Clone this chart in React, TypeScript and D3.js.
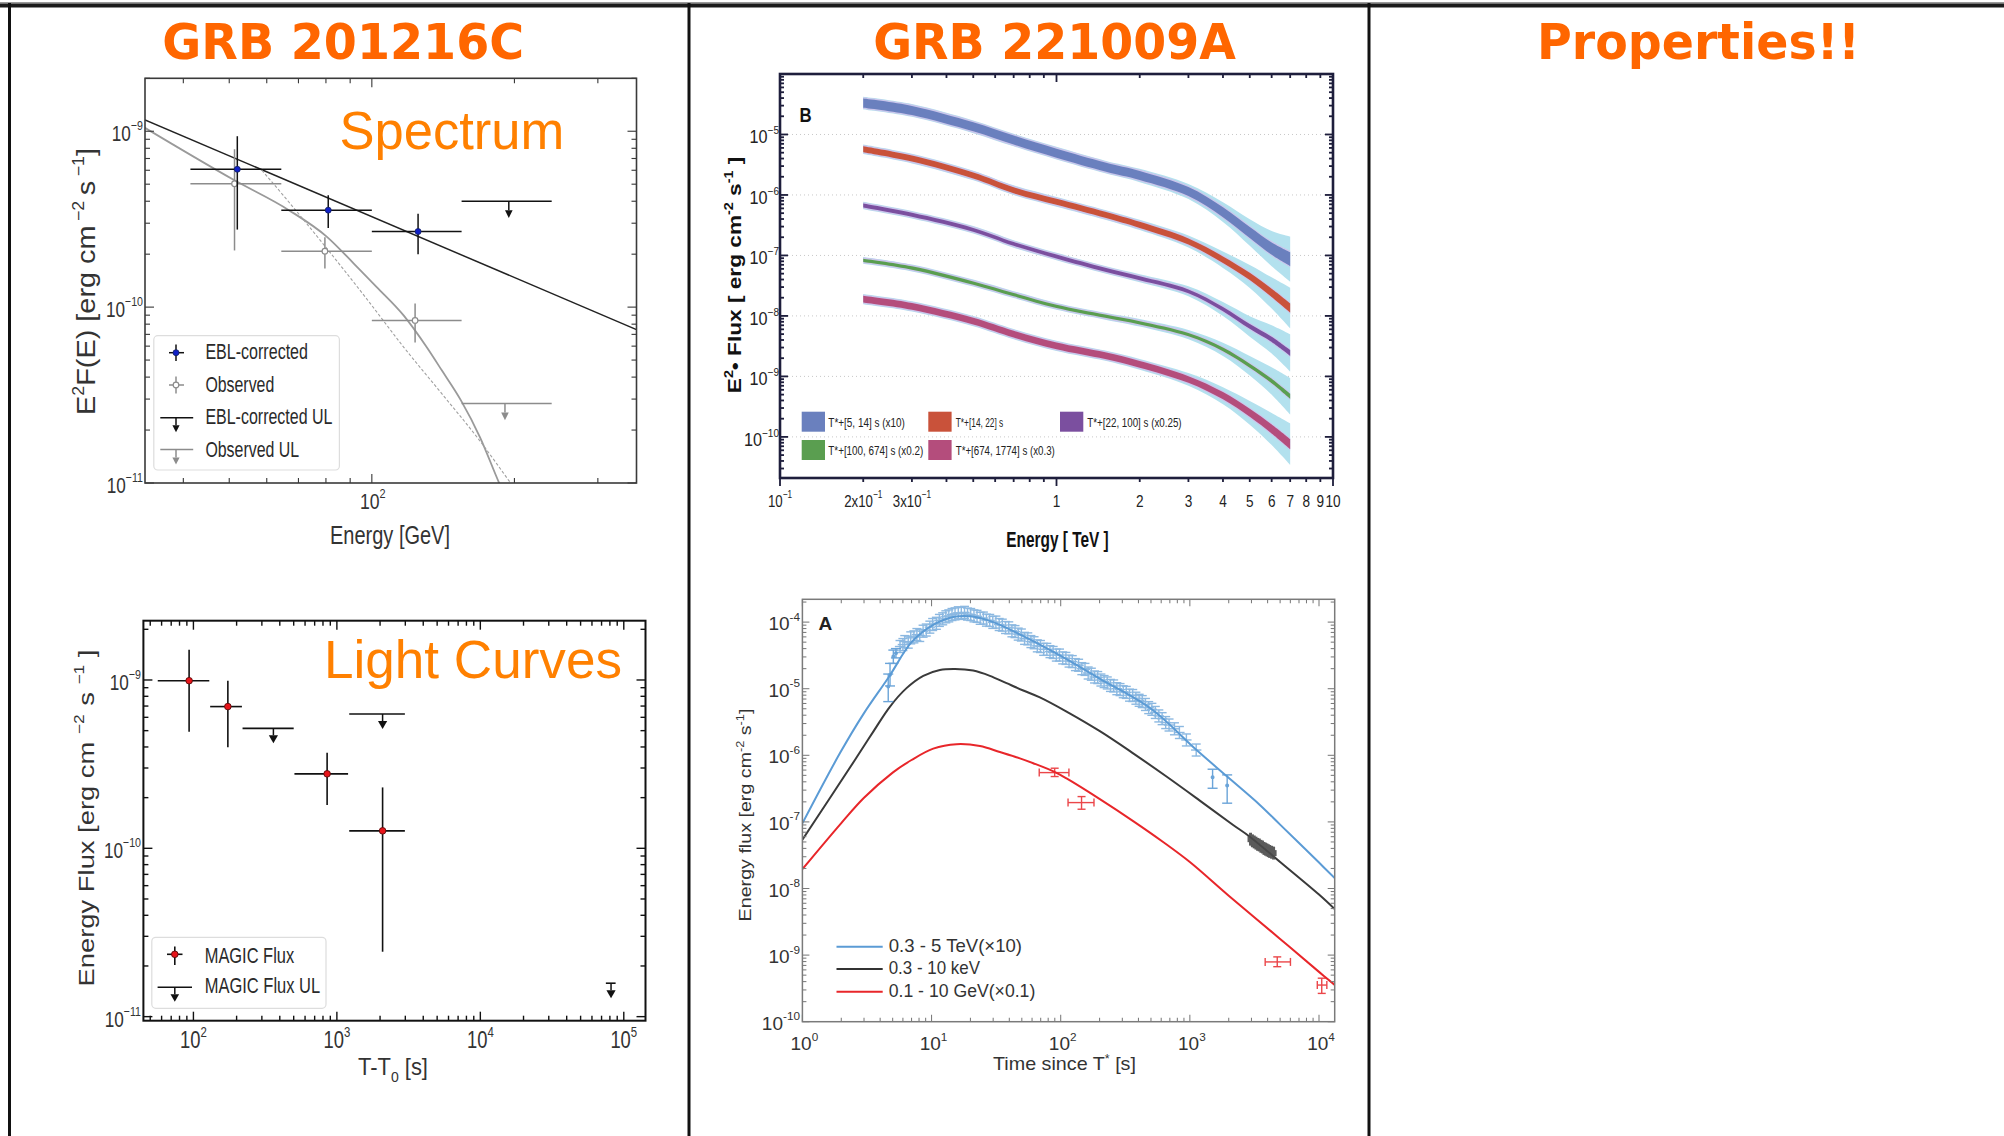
import React, { useLayoutEffect, useRef, useState } from 'react'
import * as d3 from 'd3'

const W = 2004
const H = 1136
const SANS = "'Liberation Sans', Arial, Helvetica, sans-serif"
const TITLE_FONT = "'DejaVu Sans', Verdana, sans-serif"

// ---------- GRB 201216C : spectrum ----------
const specEbl = [
  { e: 52.0, eLo: 41.4, eHi: 64.4, f: 6.08e-10, fLo: 2.76e-10, fHi: 9.37e-10 },
  { e: 80.9, eLo: 64.4, eHi: 100, f: 3.56e-10, fLo: 2.82e-10, fHi: 4.33e-10 },
  { e: 125.2, eLo: 100, eHi: 154.7, f: 2.69e-10, fLo: 2.0e-10, fHi: 3.4e-10 },
]
const specObs = [
  { e: 51.3, eLo: 41.4, eHi: 64.4, f: 5.03e-10, fLo: 2.1e-10, fHi: 7.9e-10 },
  { e: 79.6, eLo: 64.4, eHi: 100, f: 2.08e-10, fLo: 1.66e-10, fHi: 2.5e-10 },
  { e: 123.4, eLo: 100, eHi: 154.7, f: 8.4e-11, fLo: 6.3e-11, fHi: 1.05e-10 },
]
const specEblUL = [{ e: 194.6, eLo: 154.7, eHi: 239.7, f: 4.0e-10 }]
const specObsUL = [{ e: 191, eLo: 154.7, eHi: 239.7, f: 2.83e-11 }]
const specEblModel: [number, number][] = [[33.2, 1.16e-9], [362, 7.45e-11]]
const specObsModel: [number, number][] = [
  [33.1, 1.05e-9], [51.3, 5.26e-10], [66.8, 3.56e-10], [80.4, 2.51e-10], [91.6, 1.77e-10],
  [102.4, 1.3e-10], [116.7, 8.97e-11], [130.5, 5.93e-11], [140.5, 4.37e-11], [154.2, 2.95e-11],
  [169.2, 1.82e-11], [185.7, 1.0e-11], [192, 8.2e-12],
]
const specObsModelDash: [number, number][] = [
  [58.6, 6.0e-10], [66.8, 3.96e-10], [80.4, 2.15e-10], [96.9, 1.14e-10], [116.7, 5.93e-11],
  [140.5, 3.22e-11], [167.6, 1.79e-11], [196.3, 1.0e-11], [205, 8.5e-12],
]

// ---------- GRB 201216C : light curve ----------
const lcFlux = [
  { t: 93.3, tLo: 56.4, tHi: 129, f: 9.9e-10, fLo: 4.93e-10, fHi: 1.51e-9 },
  { t: 173.8, tLo: 130.8, tHi: 217.8, f: 6.95e-10, fLo: 3.98e-10, fHi: 9.9e-10 },
  { t: 855, tLo: 506, tHi: 1197, f: 2.77e-10, fLo: 1.81e-10, fHi: 3.7e-10 },
  { t: 2083, tLo: 1219, tHi: 2979, f: 1.27e-10, fLo: 2.43e-11, fHi: 2.3e-10 },
]
const lcUL = [
  { t: 361, tLo: 220, tHi: 500, f: 5.16e-10 },
  { t: 2083, tLo: 1219, tHi: 2979, f: 6.28e-10 },
  { t: 8.15e4, tLo: 7.5e4, tHi: 8.77e4, f: 1.58e-11 },
]

// ---------- GRB 221009A : B spectra ----------
const bEnergy = [0.2, 0.3, 0.5, 0.7, 1, 1.5, 2, 3, 4, 5, 6, 7]
const bFlux5_14 = [3.3e-5, 2.5e-5, 1.34e-5, 8.1e-6, 4.9e-6, 2.9e-6, 2.1e-6, 1.14e-6, 5.2e-7, 2.4e-7, 1.3e-7, 8.7e-8]
const bFlux14_22 = [5.7e-6, 4.0e-6, 2.1e-6, 1.2e-6, 7.7e-7, 4.7e-7, 3.2e-7, 1.7e-7, 8.5e-8, 4.5e-8, 2.4e-8, 1.35e-8]
const bFlux22_100 = [6.7e-7, 4.7e-7, 2.65e-7, 1.55e-7, 9.6e-8, 5.8e-8, 4.2e-8, 2.55e-8, 1.3e-8, 6.7e-9, 4.1e-9, 2.45e-9]
const bFlux100_674 = [8.3e-8, 6.2e-8, 3.5e-8, 2.25e-8, 1.44e-8, 9.9e-9, 7.7e-9, 4.9e-9, 2.8e-9, 1.5e-9, 8.4e-10, 4.7e-10]
const bFlux674_1774 = [1.9e-8, 1.44e-8, 8.2e-9, 5.0e-9, 3.2e-9, 2.2e-9, 1.58e-9, 8.9e-10, 4.8e-10, 2.5e-10, 1.35e-10, 7.6e-11]
// log10 half widths of the statistical (inner) and systematic (outer) bands
const bInnerHW = [0.075, 0.05, 0.032, 0.027, 0.055]
const bInnerGrow = [1, 1, 1, 1, 1, 1, 1, 1, 1.1, 1.2, 1.35, 1.5]
const bOuterHW = [0.03, 0.03, 0.03, 0.03, 0.03, 0.03, 0.035, 0.05, 0.08, 0.13, 0.19, 0.26]
const bNames = ['T*+[5, 14] s (x10)', 'T*+[14, 22] s', 'T*+[22, 100] s (x0.25)', 'T*+[100, 674] s (x0.2)', 'T*+[674, 1774] s (x0.3)']
const bXTicks = [0.1, 0.2, 0.3, 1, 2, 3, 4, 5, 6, 7, 8, 9, 10]

// ---------- GRB 221009A : A light curves ----------
const aBlueModel: [number, number][] = [
  [1, 9.5e-8], [1.95, 1.07e-6], [3, 4.3e-6], [4.67, 1.5e-5], [7, 5.0e-5], [10, 8.8e-5], [15, 1.2e-4],
  [20, 1.22e-4], [30, 1.0e-4], [50, 6.3e-5], [100, 3.1e-5], [200, 1.42e-5], [500, 5.0e-6],
  [1127, 1.2e-6], [1945, 4.8e-7], [3483, 1.8e-7], [5000, 9.1e-8], [10000, 2.45e-8], [13230, 1.43e-8],
]
const aBlackModel: [number, number][] = [
  [1, 5.4e-8], [2.55, 8.5e-7], [3.54, 2.27e-6], [4.77, 5.4e-6], [6.4, 1.02e-5], [8.63, 1.56e-5],
  [11.6, 1.91e-5], [15.2, 1.98e-5], [21, 1.87e-5], [28.3, 1.56e-5], [38.1, 1.21e-5], [51.3, 9.4e-6],
  [69, 7.4e-6], [111, 4.53e-6], [201, 2.3e-6], [364, 1.07e-6], [659, 4.8e-7], [1194, 2.09e-7],
  [2163, 9.0e-8], [2911, 6.0e-8], [5000, 2.5e-8], [10000, 8.1e-9], [13230, 4.9e-9],
]
const aRedModel: [number, number][] = [
  [1, 1.95e-8], [2, 9.6e-8], [3, 2.3e-7], [5, 5.5e-7], [7, 8.5e-7], [10.3, 1.26e-6], [15.6, 1.47e-6],
  [23.7, 1.38e-6], [33.8, 1.12e-6], [48.3, 9.0e-7], [61.3, 7.6e-7], [90.3, 5.6e-7], [111, 4.5e-7],
  [201, 2.2e-7], [364, 1.03e-7], [621, 5.0e-8], [1000, 2.5e-8], [2000, 7.8e-9], [5000, 1.75e-9],
  [10000, 5.6e-10], [13230, 3.57e-10],
]
const aBlueData: [number, number][] = [
  [5.7, 4.3e-5], [6.0, 4.6e-5], [6.2, 5.1e-5], [6.6, 5.0e-5], [6.9, 5.8e-5], [7.3, 6.0e-5], [7.7, 6.5e-5],
  [8.1, 6.3e-5], [8.6, 7.3e-5], [9.1, 7.6e-5], [9.7, 8.4e-5], [10.2, 9.2e-5], [10.9, 9.6e-5], [11.5, 1.06e-4],
  [12.2, 1.12e-4], [12.9, 1.2e-4], [13.6, 1.24e-4], [14.4, 1.3e-4], [15.2, 1.33e-4], [16.1, 1.38e-4],
  [17.0, 1.35e-4], [18.0, 1.4e-4], [19.0, 1.32e-4], [20.1, 1.3e-4], [21.3, 1.24e-4], [22.5, 1.22e-4],
  [23.8, 1.14e-4], [25.2, 1.15e-4], [26.6, 1.07e-4], [28.2, 1.06e-4], [29.8, 9.9e-5], [31.5, 1.0e-4],
  [33.4, 9.2e-5], [35.3, 9.0e-5], [37.4, 8.3e-5], [39.6, 8.2e-5], [41.9, 7.4e-5], [44.3, 7.2e-5],
  [46.9, 6.6e-5], [49.6, 6.4e-5], [52.5, 5.7e-5], [55.6, 5.6e-5], [58.8, 5.1e-5], [62.2, 4.9e-5],
  [65.9, 4.4e-5], [69.7, 4.3e-5], [73.8, 3.9e-5], [78.1, 3.9e-5], [82.6, 3.6e-5], [87.4, 3.5e-5],
  [92.5, 3.2e-5], [97.9, 3.2e-5], [103.6, 2.9e-5], [109.7, 2.85e-5], [116.1, 2.6e-5], [122.9, 2.55e-5],
  [130, 2.3e-5], [137.6, 2.25e-5], [145.7, 2.0e-5], [154.2, 1.95e-5], [163.2, 1.72e-5], [172.7, 1.65e-5],
  [182.8, 1.5e-5], [193.5, 1.47e-5], [204.8, 1.35e-5], [216.8, 1.28e-5], [229.4, 1.22e-5], [242.8, 1.12e-5],
  [257, 1.1e-5], [272, 1.0e-5], [288, 9.7e-6], [305, 9.0e-6], [322, 8.8e-6], [341, 8.0e-6], [361, 7.9e-6],
  [382, 7.2e-6], [405, 6.7e-6], [428, 6.4e-6], [453, 5.8e-6], [480, 5.2e-6], [508, 4.9e-6], [540, 4.4e-6],
  [575, 3.9e-6], [610, 3.55e-6], [650, 3.1e-6], [690, 2.85e-6], [760, 2.5e-6], [830, 2.2e-6],
  [940, 1.7e-6], [1120, 1.2e-6],
]
const aBlueBig = [
  { t: 4.62, f: 1.08e-5, fLo: 6.4e-6, fHi: 1.66e-5 },
  { t: 4.77, f: 1.62e-5, fLo: 1.1e-5, fHi: 2.4e-5 },
  { t: 5.06, f: 3.05e-5, fLo: 2.4e-5, fHi: 3.8e-5 },
  { t: 5.3, f: 3.4e-5, fLo: 2.9e-5, fHi: 4.0e-5 },
  { t: 1500, f: 4.69e-7, fLo: 3.2e-7, fHi: 6.18e-7 },
  { t: 1945, f: 3.51e-7, fLo: 1.91e-7, fHi: 5.08e-7 },
]
const aBlackData: [number, number][] = [
  [2950, 5.5e-8], [3050, 5.2e-8], [3150, 5.0e-8], [3250, 4.8e-8], [3350, 4.6e-8], [3450, 4.5e-8],
  [3550, 4.3e-8], [3650, 4.2e-8], [3750, 4.0e-8], [3850, 3.9e-8], [3950, 3.8e-8], [4050, 3.7e-8],
  [4150, 3.6e-8], [4300, 3.5e-8], [4450, 3.4e-8],
]
const aRedData = [
  { t: 89.8, tLo: 68.2, tHi: 115.8, f: 5.5e-7, fLo: 4.8e-7, fHi: 6.4e-7 },
  { t: 145, tLo: 114, tHi: 181, f: 1.95e-7, fLo: 1.55e-7, fHi: 2.4e-7 },
  { t: 4750, tLo: 3830, tHi: 6010, f: 7.9e-10, fLo: 6.7e-10, fHi: 9.4e-10 },
  { t: 10500, tLo: 9700, tHi: 11500, f: 3.55e-10, fLo: 2.66e-10, fHi: 4.5e-10 },
]
const aLegend = ['0.3 - 5  TeV(\u00d710)', '0.3 - 10 keV', '0.1 - 10 GeV(\u00d70.1)']

// ---------- scales ----------
const specX = d3.scaleLog().domain([33.2, 362]).range([145, 636.5])
const specY = d3.scaleLog().domain([1e-11, 2.0e-9]).range([483, 78.3])
const lcX = d3.scaleLog().domain([44.8, 1.417e5]).range([143.4, 645.5])
const lcY = d3.scaleLog().domain([9.46e-12, 2.25e-9]).range([1020.7, 620.7])
const bX = d3.scaleLog().domain([0.1, 10]).range([780, 1333])
const bY = d3.scaleLog().domain([2.09e-11, 1e-4]).range([478, 74])
const aX = d3.scaleLog().domain([1, 13230]).range([802.4, 1334.7])
const aY = d3.scaleLog().domain([1e-10, 2.2e-4]).range([1021.7, 599.3])

function logTicks(scale: any) {
  return scale.ticks().map((v: number) => {
    const l = Math.log10(v)
    return { v, major: Math.abs(l - Math.round(l)) < 1e-9, exp: Math.round(l) }
  })
}

// text squeezed to a measured width (the source figures were stretched)
function FitText({ x, y, w, sx = 1, size, anchor = 'middle', rotate = 0, weight = 400, fill = '#222', family = SANS, children }: any) {
  const ref = useRef<SVGTextElement>(null)
  const [s, setS] = useState(sx)
  useLayoutEffect(() => {
    if (!ref.current || !w) return
    const bw = ref.current.getBBox().width
    if (bw > 0) setS(w / bw)
  }, [w, size])
  return (
    <g transform={`translate(${x},${y}) rotate(${rotate}) scale(${s},1)`}>
      <text ref={ref} textAnchor={anchor} fontSize={size} fontWeight={weight} fill={fill} fontFamily={family}>
        {children}
      </text>
    </g>
  )
}

function Pow10({ x, y, exp, pre = '', size, sx = 1, anchor = 'middle', fill = '#222' }: any) {
  const es = size * 0.62
  return (
    <g transform={`translate(${x},${y}) scale(${sx},1)`}>
      <text textAnchor={anchor} fontSize={size} fill={fill} fontFamily={SANS}>
        {pre}10<tspan dy={-size * 0.5} fontSize={es}>{exp}</tspan>
      </text>
    </g>
  )
}

function Frame({ sx, sy, xs, ys, maj, min, color, width, bottomOut = false }: any) {
  const [x0, x1] = sx.range()
  const [y1, y0] = sy.range()
  const ln: any[] = []
  xs.forEach((t: any, i: number) => {
    const p = sx(t.v)
    const L = t.major ? maj : min
    ln.push(<line key={'xb' + i} x1={p} x2={p} y1={y1} y2={bottomOut ? y1 + L : y1 - L} />)
    ln.push(<line key={'xt' + i} x1={p} x2={p} y1={y0} y2={y0 + L} />)
  })
  ys.forEach((t: any, i: number) => {
    const p = sy(t.v)
    const L = t.major ? maj : min
    ln.push(<line key={'yl' + i} x1={x0} x2={x0 + L} y1={p} y2={p} />)
    ln.push(<line key={'yr' + i} x1={x1} x2={x1 - L} y1={p} y2={p} />)
  })
  return (
    <g stroke={color} strokeWidth={Math.max(1, width * 0.7)} fill="none">
      {ln}
      <rect x={x0} y={y0} width={x1 - x0} height={y1 - y0} strokeWidth={width} />
    </g>
  )
}

function ULArrow({ x, y, len, head, hw, color, sw = 1.5 }: any) {
  return (
    <g>
      <line x1={x} x2={x} y1={y} y2={y + len - head} stroke={color} strokeWidth={sw} />
      <path d={`M${x - hw},${y + len - head}L${x + hw},${y + len - head}L${x},${y + len}Z`} fill={color} />
    </g>
  )
}

function SpectrumPanel() {
  const line = d3.line<[number, number]>().x(d => specX(d[0])).y(d => specY(d[1])).curve(d3.curveMonotoneX)
  const xt = logTicks(specX)
  const yt = logTicks(specY)
  const [x0, x1] = specX.range()
  const [y1, y0] = specY.range()
  return (
    <g>
      <clipPath id="clipSpec"><rect x={x0} y={y0} width={x1 - x0} height={y1 - y0} /></clipPath>
      <g clipPath="url(#clipSpec)" fill="none">
        <path d={line(specEblModel) || ''} stroke="#222" strokeWidth={1.5} />
        <path d={line(specObsModel) || ''} stroke="#9a9a9a" strokeWidth={1.8} />
        <path d={line(specObsModelDash) || ''} stroke="#a0a0a0" strokeWidth={1.1} strokeDasharray="3,2" />
      </g>
      <Frame sx={specX} sy={specY} xs={xt} ys={yt} maj={9} min={5} color="#3a3a3a" width={1.6} />
      {xt.filter((t: any) => t.major).map((t: any) => (
        <Pow10 key={t.v} x={specX(t.v) + 1} y={508.5} exp={t.exp} size={22} sx={0.8} fill="#333" />
      ))}
      {yt.filter((t: any) => t.major).map((t: any) => (
        <Pow10 key={t.v} x={143} y={specY(t.v) + 10} exp={'\u2212' + -t.exp} size={22} sx={0.78} anchor="end" fill="#333" />
      ))}
      {specObs.map((d, i) => (
        <g key={'o' + i} stroke="#8c8c8c" strokeWidth={1.5}>
          <line x1={specX(d.eLo)} x2={specX(d.eHi)} y1={specY(d.f)} y2={specY(d.f)} />
          <line x1={specX(d.e)} x2={specX(d.e)} y1={specY(d.fLo)} y2={specY(d.fHi)} />
          <circle cx={specX(d.e)} cy={specY(d.f)} r={2.8} fill="#fff" strokeWidth={1.2} />
        </g>
      ))}
      {specObsUL.map((d, i) => (
        <g key={'ou' + i}>
          <line x1={specX(d.eLo)} x2={specX(d.eHi)} y1={specY(d.f)} y2={specY(d.f)} stroke="#8c8c8c" strokeWidth={1.5} />
          <ULArrow x={specX(d.e)} y={specY(d.f)} len={16.7} head={7.7} hw={3.8} color="#8c8c8c" />
        </g>
      ))}
      {specEbl.map((d, i) => (
        <g key={'e' + i} stroke="#111" strokeWidth={1.5}>
          <line x1={specX(d.eLo)} x2={specX(d.eHi)} y1={specY(d.f)} y2={specY(d.f)} />
          <line x1={specX(d.e)} x2={specX(d.e)} y1={specY(d.fLo)} y2={specY(d.fHi)} />
          <circle cx={specX(d.e)} cy={specY(d.f)} r={3} fill="#1020c8" stroke="#102060" strokeWidth={0.8} />
        </g>
      ))}
      {specEblUL.map((d, i) => (
        <g key={'eu' + i}>
          <line x1={specX(d.eLo)} x2={specX(d.eHi)} y1={specY(d.f)} y2={specY(d.f)} stroke="#111" strokeWidth={1.5} />
          <ULArrow x={specX(d.e)} y={specY(d.f)} len={16.7} head={7.7} hw={3.8} color="#111" />
        </g>
      ))}
      {/* legend */}
      <rect x={153.8} y={335.7} width={185.6} height={134.3} rx={4} fill="#fff" stroke="#ddd" strokeWidth={1.2} />
      <g stroke="#111" strokeWidth={1.5}>
        <line x1={176} x2={176} y1={344.5} y2={361} />
        <line x1={169} x2={184} y1={352.7} y2={352.7} />
      </g>
      <circle cx={176} cy={352.7} r={3} fill="#1020c8" stroke="#102060" strokeWidth={0.8} />
      <g stroke="#8c8c8c" strokeWidth={1.5}>
        <line x1={176} x2={176} y1={376.5} y2={393.5} />
        <line x1={169} x2={184} y1={385} y2={385} />
      </g>
      <circle cx={176} cy={385} r={2.8} fill="#fff" stroke="#8c8c8c" strokeWidth={1.2} />
      <line x1={160.3} x2={193.2} y1={417.7} y2={417.7} stroke="#111" strokeWidth={1.5} />
      <ULArrow x={176} y={417.7} len={14.5} head={7} hw={3.6} color="#111" />
      <line x1={160.3} x2={193.2} y1={449.5} y2={449.5} stroke="#8c8c8c" strokeWidth={1.5} />
      <ULArrow x={176} y={449.5} len={15} head={7} hw={3.6} color="#8c8c8c" />
      <FitText x={205.4} y={359.3} w={102.6} size={22} anchor="start" fill="#2a2a2a">EBL-corrected</FitText>
      <FitText x={205.4} y={391.7} w={68.9} size={22} anchor="start" fill="#2a2a2a">Observed</FitText>
      <FitText x={205.4} y={424} w={127.1} size={22} anchor="start" fill="#2a2a2a">EBL-corrected UL</FitText>
      <FitText x={205.4} y={456.7} w={93.8} size={22} anchor="start" fill="#2a2a2a">Observed UL</FitText>
      {/* labels */}
      <FitText x={390} y={544} w={120} size={26} fill="#333">Energy [GeV]</FitText>
      <FitText x={95} y={281.5} w={267} size={26} rotate={-90} fill="#333">
        E<tspan dy={-11} fontSize={16}>2</tspan>
        <tspan dy={11}>F(E) [erg cm</tspan>
        <tspan dx={4} dy={-11} fontSize={16}>{'\u22122'}</tspan>
        <tspan dx={5} dy={11}>s</tspan>
        <tspan dx={4} dy={-11} fontSize={16}>{'\u22121'}</tspan>
        <tspan dy={11}>]</tspan>
      </FitText>
      <FitText x={339.4} y={149.3} w={225} size={54} anchor="start" fill="#ff8000">Spectrum</FitText>
    </g>
  )
}

function LightCurvePanel() {
  const xt = logTicks(lcX)
  const yt = logTicks(lcY)
  return (
    <g>
      <Frame sx={lcX} sy={lcY} xs={xt} ys={yt} maj={9} min={5} color="#111" width={2} />
      {xt.filter((t: any) => t.major).map((t: any) => (
        <Pow10 key={t.v} x={lcX(t.v)} y={1048} exp={t.exp} size={23} sx={0.8} fill="#333" />
      ))}
      {yt.filter((t: any) => t.major).map((t: any) => (
        <Pow10 key={t.v} x={141} y={lcY(t.v) + 10} exp={'\u2212' + -t.exp} size={22} sx={0.78} anchor="end" fill="#333" />
      ))}
      {lcUL.map((d, i) => (
        <g key={'u' + i}>
          <line x1={lcX(d.tLo)} x2={lcX(d.tHi)} y1={lcY(d.f)} y2={lcY(d.f)} stroke="#111" strokeWidth={1.6} />
          <ULArrow x={lcX(d.t)} y={lcY(d.f)} len={15} head={8} hw={4.6} color="#111" />
        </g>
      ))}
      {lcFlux.map((d, i) => (
        <g key={'p' + i} stroke="#111" strokeWidth={1.6}>
          <line x1={lcX(d.tLo)} x2={lcX(d.tHi)} y1={lcY(d.f)} y2={lcY(d.f)} />
          <line x1={lcX(d.t)} x2={lcX(d.t)} y1={lcY(d.fLo)} y2={lcY(d.fHi)} />
          <circle cx={lcX(d.t)} cy={lcY(d.f)} r={3.3} fill="#e8141a" stroke="#5a0a0a" strokeWidth={0.9} />
        </g>
      ))}
      {/* legend */}
      <rect x={151.8} y={937.3} width={174.2} height={71} rx={4} fill="#fff" stroke="#ddd" strokeWidth={1.2} />
      <g stroke="#111" strokeWidth={1.6}>
        <line x1={174.8} x2={174.8} y1={946.5} y2={965} />
        <line x1={167} x2={182.5} y1={954.3} y2={954.3} />
      </g>
      <circle cx={174.8} cy={954.3} r={3.3} fill="#e8141a" stroke="#5a0a0a" strokeWidth={0.9} />
      <line x1={157.6} x2={192} y1={987.3} y2={987.3} stroke="#111" strokeWidth={1.6} />
      <ULArrow x={174.8} y={987.3} len={14.4} head={7.5} hw={4.3} color="#111" />
      <FitText x={204.7} y={962.7} w={89.5} size={22} anchor="start" fill="#2a2a2a">MAGIC Flux</FitText>
      <FitText x={204.7} y={993.3} w={115.5} size={22} anchor="start" fill="#2a2a2a">MAGIC Flux UL</FitText>
      {/* labels */}
      <FitText x={393} y={1075} w={70} size={23.5} fill="#333">
        T-T<tspan dy={7} fontSize={15}>0</tspan><tspan dy={-7}> [s]</tspan>
      </FitText>
      <FitText x={94} y={818} w={337} size={22} rotate={-90} fill="#333">
        Energy Flux [erg cm
        <tspan dx={6} dy={-10} fontSize={14}>{'\u22122'}</tspan>
        <tspan dx={7} dy={10}>s</tspan>
        <tspan dx={6} dy={-10} fontSize={14}>{'\u22121'}</tspan>
        <tspan dx={6} dy={10}>]</tspan>
      </FitText>
      <FitText x={324} y={678.3} w={298} size={53} anchor="start" fill="#ff8000">Light Curves</FitText>
    </g>
  )
}

function SpectraBPanel() {
  const series = [
    { flux: bFlux5_14, color: '#6a80be', hw: bInnerHW[0] },
    { flux: bFlux14_22, color: '#c9523a', hw: bInnerHW[1] },
    { flux: bFlux22_100, color: '#7b4f9f', hw: bInnerHW[2] },
    { flux: bFlux100_674, color: '#5a9e50', hw: bInnerHW[3] },
    { flux: bFlux674_1774, color: '#b44d7c', hw: bInnerHW[4] },
  ]
  const band = (f: number[], hw: (i: number) => number) =>
    d3.area<number>()
      .x((_, i) => bX(bEnergy[i]))
      .y0((v, i) => bY(v / Math.pow(10, hw(i))))
      .y1((v, i) => bY(v * Math.pow(10, hw(i))))
      .curve(d3.curveCatmullRom.alpha(0.5))(f) || ''
  const xt = logTicks(bX)
  const yt = logTicks(bY)
  const [x0, x1] = bX.range()
  const swX = [801.7, 928.3, 1060]
  const swY = [411.7, 440]
  const yLabels = yt.filter((t: any) => t.major && t.exp <= -5 && t.exp >= -10)
  return (
    <g>
      {yt.filter((t: any) => t.major).map((t: any) => (
        <line key={'g' + t.v} x1={x0} x2={x1} y1={bY(t.v)} y2={bY(t.v)} stroke="#c8c8c8" strokeWidth={1} strokeDasharray="1,3" />
      ))}
      {series.map((s, k) => (
        <g key={k}>
          <path d={band(s.flux, i => s.hw * bInnerGrow[i] + bOuterHW[i])} fill="#b3e1ee" />
          <path d={band(s.flux, i => s.hw * bInnerGrow[i] + 0.022)} fill="#cbc6ec" />
          <path d={band(s.flux, i => s.hw * bInnerGrow[i])} fill={s.color} />
        </g>
      ))}
      <Frame sx={bX} sy={bY} xs={xt} ys={yt} maj={8} min={4} color="#1e1e3c" width={2.6} bottomOut />
      {bXTicks.map(v => {
        const x = bX(v)
        if (v < 1) {
          const pre = v === 0.1 ? '' : Math.round(v * 10) + 'x'
          return <Pow10 key={v} x={x} y={506.7} pre={pre} exp={'\u22121'} size={17} sx={0.78} fill="#222" />
        }
        return (
          <FitText key={v} x={x} y={506.7} sx={0.8} size={17} fill="#222">{String(v)}</FitText>
        )
      })}
      {yLabels.map((t: any) => (
        <Pow10 key={t.v} x={779} y={bY(t.v) + 9} exp={'\u2212' + -t.exp} size={18} sx={0.9} anchor="end" fill="#222" />
      ))}
      {series.map((s, k) => {
        const col = k < 3 ? k : k - 3
        const row = k < 3 ? 0 : 1
        return <rect key={'lg' + k} x={swX[col]} y={swY[row]} width={23.3} height={20} fill={s.color} />
      })}
      <FitText x={828.3} y={426.5} w={76.7} size={12} anchor="start" fill="#222">{bNames[0]}</FitText>
      <FitText x={955.7} y={426.5} w={47.6} size={12} anchor="start" fill="#222">{bNames[1]}</FitText>
      <FitText x={1087.3} y={426.5} w={94.4} size={12} anchor="start" fill="#222">{bNames[2]}</FitText>
      <FitText x={828.3} y={455} w={95} size={12} anchor="start" fill="#222">{bNames[3]}</FitText>
      <FitText x={955.7} y={455} w={99.3} size={12} anchor="start" fill="#222">{bNames[4]}</FitText>
      <FitText x={799.4} y={121.7} sx={0.8} size={21} weight={700} anchor="start" fill="#111">B</FitText>
      <FitText x={1057.5} y={546.7} w={102.4} size={22} weight={700} fill="#111">Energy [ TeV ]</FitText>
      <FitText x={741} y={275} w={236.6} size={19} weight={700} rotate={-90} fill="#111">
        E<tspan dy={-8} fontSize={12}>2</tspan><tspan dy={8}>{'\u2022 Flux [ erg cm'}</tspan>
        <tspan dy={-8} fontSize={12}>{'-2'}</tspan><tspan dy={8}> s</tspan>
        <tspan dy={-8} fontSize={12}>{'-1'}</tspan><tspan dy={8}> ]</tspan>
      </FitText>
    </g>
  )
}

function LightCurveAPanel() {
  const line = d3.line<[number, number]>().x(d => aX(d[0])).y(d => aY(d[1])).curve(d3.curveCatmullRom.alpha(0.5))
  const xt = logTicks(aX)
  const yt = logTicks(aY)
  const [x0, x1] = aX.range()
  const [y1, y0] = aY.range()
  const blue = '#5b9bd5'
  const red = '#e8262a'
  const dT = Math.pow(10, 0.04)
  const dF = Math.pow(10, 0.09)
  return (
    <g>
      <clipPath id="clipA"><rect x={x0} y={y0} width={x1 - x0} height={y1 - y0} /></clipPath>
      <g clipPath="url(#clipA)" fill="none">
        <path d={line(aBlueModel) || ''} stroke={blue} strokeWidth={2} />
        <path d={line(aBlackModel) || ''} stroke="#3a3a3a" strokeWidth={2} />
        <path d={line(aRedModel) || ''} stroke={red} strokeWidth={2} />
      </g>
      <g stroke={blue} strokeWidth={1.4} opacity={0.7}>
        {aBlueData.map((d, i) => {
          const x = aX(d[0]), y = aY(d[1])
          const ya = aY(d[1] * dF), yb = aY(d[1] / dF)
          return (
            <g key={i}>
              <line x1={aX(d[0] / dT)} x2={aX(d[0] * dT)} y1={y} y2={y} />
              <line x1={x} x2={x} y1={ya} y2={yb} />
              <line x1={x - 4.5} x2={x + 4.5} y1={ya} y2={ya} />
              <line x1={x - 4.5} x2={x + 4.5} y1={yb} y2={yb} />
            </g>
          )
        })}
      </g>
      <g stroke={blue} strokeWidth={1.4} opacity={0.9}>
        {aBlueBig.map((d, i) => {
          const x = aX(d.t)
          return (
            <g key={i}>
              <line x1={x} x2={x} y1={aY(d.fLo)} y2={aY(d.fHi)} />
              <line x1={x - 5} x2={x + 5} y1={aY(d.fLo)} y2={aY(d.fLo)} />
              <line x1={x - 5} x2={x + 5} y1={aY(d.fHi)} y2={aY(d.fHi)} />
              <circle cx={x} cy={aY(d.f)} r={1.3} fill={blue} />
            </g>
          )
        })}
      </g>
      <g stroke="#4a4a4a" strokeWidth={3} opacity={0.9}>
        {aBlackData.map((d, i) => {
          const x = aX(d[0])
          return (
            <g key={i}>
              <line x1={x} x2={x} y1={aY(d[1] * 1.25)} y2={aY(d[1] / 1.25)} />
              <line x1={aX(d[0] / 1.03)} x2={aX(d[0] * 1.03)} y1={aY(d[1])} y2={aY(d[1])} />
              <rect x={x - 3} y={aY(d[1]) - 3} width={6} height={6} fill="#4a4a4a" stroke="none" />
            </g>
          )
        })}
      </g>
      <g stroke={red} strokeWidth={1.4} opacity={0.85}>
        {aRedData.map((d, i) => {
          const x = aX(d.t), y = aY(d.f)
          return (
            <g key={i}>
              <line x1={aX(d.tLo)} x2={aX(d.tHi)} y1={y} y2={y} />
              <line x1={aX(d.tLo)} x2={aX(d.tLo)} y1={y - 4} y2={y + 4} />
              <line x1={aX(d.tHi)} x2={aX(d.tHi)} y1={y - 4} y2={y + 4} />
              <line x1={x} x2={x} y1={aY(d.fLo)} y2={aY(d.fHi)} />
              <line x1={x - 4} x2={x + 4} y1={aY(d.fLo)} y2={aY(d.fLo)} />
              <line x1={x - 4} x2={x + 4} y1={aY(d.fHi)} y2={aY(d.fHi)} />
            </g>
          )
        })}
      </g>
      <Frame sx={aX} sy={aY} xs={xt} ys={yt} maj={7} min={4} color="#7a7a7a" width={1.5} />
      {xt.filter((t: any) => t.major).map((t: any) => (
        <Pow10 key={t.v} x={aX(t.v) + 2} y={1050} exp={t.exp} size={19} sx={1} fill="#333" />
      ))}
      {yt.filter((t: any) => t.major).map((t: any) => (
        <Pow10 key={t.v} x={800} y={aY(t.v) + 8} exp={'-' + -t.exp} size={19} sx={1} anchor="end" fill="#333" />
      ))}
      {/* legend */}
      {[blue, '#333', red].map((c, i) => (
        <line key={i} x1={836.5} x2={882.7} y1={[946.7, 969, 991.7][i]} y2={[946.7, 969, 991.7][i]} stroke={c} strokeWidth={2} />
      ))}
      <FitText x={888.7} y={951.7} w={133.4} size={17.5} anchor="start" fill="#333">{aLegend[0]}</FitText>
      <FitText x={888.7} y={974} w={91.6} size={17.5} anchor="start" fill="#333">{aLegend[1]}</FitText>
      <FitText x={888.7} y={997.3} w={146.7} size={17.5} anchor="start" fill="#333">{aLegend[2]}</FitText>
      <FitText x={818.4} y={630} sx={1} size={19} weight={700} anchor="start" fill="#222">A</FitText>
      <FitText x={1064.5} y={1070} w={143} size={19} fill="#333">
        Time since T<tspan dy={-7} fontSize={12}>*</tspan><tspan dy={7}> [s]</tspan>
      </FitText>
      <FitText x={751} y={815} w={213} size={17} rotate={-90} fill="#333">
        Energy flux [erg cm<tspan dy={-7} fontSize={11}>-2</tspan><tspan dy={7}> s</tspan>
        <tspan dy={-7} fontSize={11}>-1</tspan><tspan dy={7}>]</tspan>
      </FitText>
    </g>
  )
}

export default function App() {
  return (
    <svg width={W} height={H} viewBox={`0 0 ${W} ${H}`} style={{ position: 'absolute', left: 0, top: 0, background: '#fff' }}>
      <rect x={0} y={0} width={W} height={H} fill="#fff" />
      {/* slide frame */}
      <rect x={0} y={2} width={W} height={1.5} fill="#9a9a9a" />
      <rect x={0} y={3.5} width={W} height={4} fill="#1c1c1c" />
      <line x1={9.5} x2={9.5} y1={3} y2={H} stroke="#111" strokeWidth={3} />
      <line x1={689} x2={689} y1={3} y2={H} stroke="#111" strokeWidth={3} />
      <line x1={1369} x2={1369} y1={3} y2={H} stroke="#111" strokeWidth={3} />
      <FitText x={343.2} y={59} w={362} size={50} weight={700} family={TITLE_FONT} fill="#ff6600">GRB 201216C</FitText>
      <FitText x={1054.5} y={59} w={363} size={50} weight={700} family={TITLE_FONT} fill="#ff6600">GRB 221009A</FitText>
      <FitText x={1698.5} y={59} w={323} size={50} weight={700} family={TITLE_FONT} fill="#ff6600">Properties!!</FitText>
      <SpectrumPanel />
      <LightCurvePanel />
      <SpectraBPanel />
      <LightCurveAPanel />
    </svg>
  )
}
